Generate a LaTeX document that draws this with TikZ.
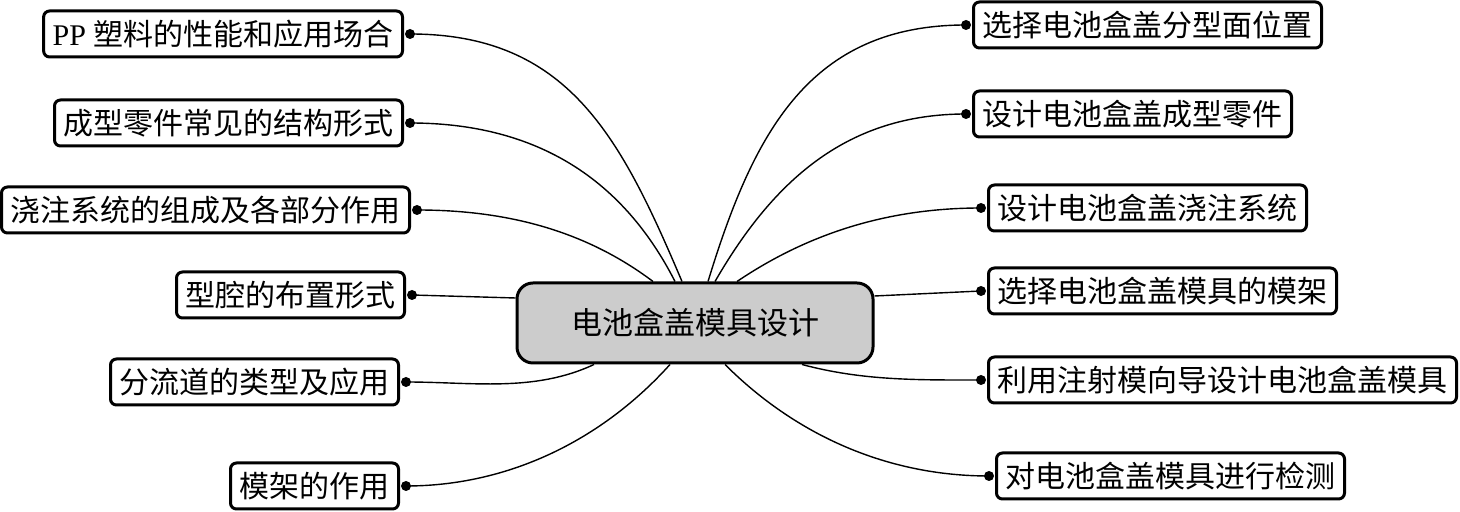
\documentclass[tikz,border=0pt]{standalone}
\usepackage{fontspec}
\setmainfont{Liberation Serif}
\newfontfamily\cjk{Noto Sans CJK SC}
\begin{document}
\begin{tikzpicture}[x=0.5pt,y=0.5pt,
  leaf/.style={draw=black, line width=1.5pt, rounded corners=3pt, fill=white,
    inner xsep=4.5pt, inner ysep=0pt, minimum height=23pt,
    font=\cjk\fontsize{15pt}{18pt}\selectfont},
  hub/.style={draw=black, line width=1.5pt, rounded corners=8pt, fill=black!20,
    minimum width=178pt, minimum height=40pt, inner sep=0pt,
    font=\cjk\fontsize{15.5pt}{19pt}\selectfont},
  dotnode/.style={circle, fill=black, inner sep=0pt, minimum size=5pt},
  link/.style={line width=0.7pt, black}]
\useasboundingbox (0,0) rectangle (1460,512);
\fill[white] (0,0) rectangle (1460,512);

\node[hub] (c) at (695,189) {电池盒盖模具设计};

% left leaves
\node[leaf, anchor=east] (l1) at (404,478) {{\rmfamily PP }塑料的性能和应用场合};
\node[leaf, anchor=east] (l2) at (404,389) {成型零件常见的结构形式};
\node[leaf, anchor=east] (l3) at (411,302) {浇注系统的组成及各部分作用};
\node[leaf, anchor=east] (l4) at (406,217) {型腔的布置形式};
\node[leaf, anchor=east] (l5) at (400,130) {分流道的类型及应用};
\node[leaf, anchor=east] (l6) at (400,26) {模架的作用};

% right leaves
\node[leaf, anchor=west] (r1) at (972,487) {选择电池盒盖分型面位置};
\node[leaf, anchor=west] (r2) at (972,398) {设计电池盒盖成型零件};
\node[leaf, anchor=west] (r3) at (987,304) {设计电池盒盖浇注系统};
\node[leaf, anchor=west] (r4) at (987,221) {选择电池盒盖模具的模架};
\node[leaf, anchor=west] (r5) at (987,132) {利用注射模向导设计电池盒盖模具};
\node[leaf, anchor=west] (r6) at (995,36) {对电池盒盖模具进行检测};

% dots
\foreach \n in {l1,l2,l3,l4,l5,l6}{\node[dotnode] (d\n) at ([xshift=3pt]\n.east) {};}
\foreach \n in {r1,r2,r3,r4,r5,r6}{\node[dotnode] (d\n) at ([xshift=-3pt]\n.west) {};}

% connectors
\draw[link] (dl1.center) to[out=0,in=113,looseness=1.1] ([xshift=-6.5pt]c.north);
\draw[link] (dl2.center) to[out=0,in=117,looseness=1.0] ([xshift=-10pt]c.north);
\draw[link] (dl3.center) to[out=0,in=143,looseness=0.9] ([xshift=-21pt]c.north);
\draw[link] (dl4.center) -- ([yshift=12.5pt]c.west);
\draw[link] (dl5.center) to[out=0,in=-155,looseness=0.9] ([xshift=-50.5pt]c.south);
\draw[link] (dl6.center) to[out=0,in=-132,looseness=0.9] ([xshift=-12.5pt]c.south);

\draw[link] (dr1.center) to[out=180,in=73,looseness=1.1] ([xshift=6.5pt]c.north);
\draw[link] (dr2.center) to[out=180,in=60,looseness=1.0] ([xshift=10pt]c.north);
\draw[link] (dr3.center) to[out=180,in=34,looseness=0.9] ([xshift=21pt]c.north);
\draw[link] (dr4.center) -- ([yshift=13.5pt]c.east);
\draw[link] (dr5.center) to[out=180,in=-15,looseness=0.9] ([xshift=53.5pt]c.south);
\draw[link] (dr6.center) to[out=180,in=-45,looseness=0.9] ([xshift=15pt]c.south);
\end{tikzpicture}
\end{document}
